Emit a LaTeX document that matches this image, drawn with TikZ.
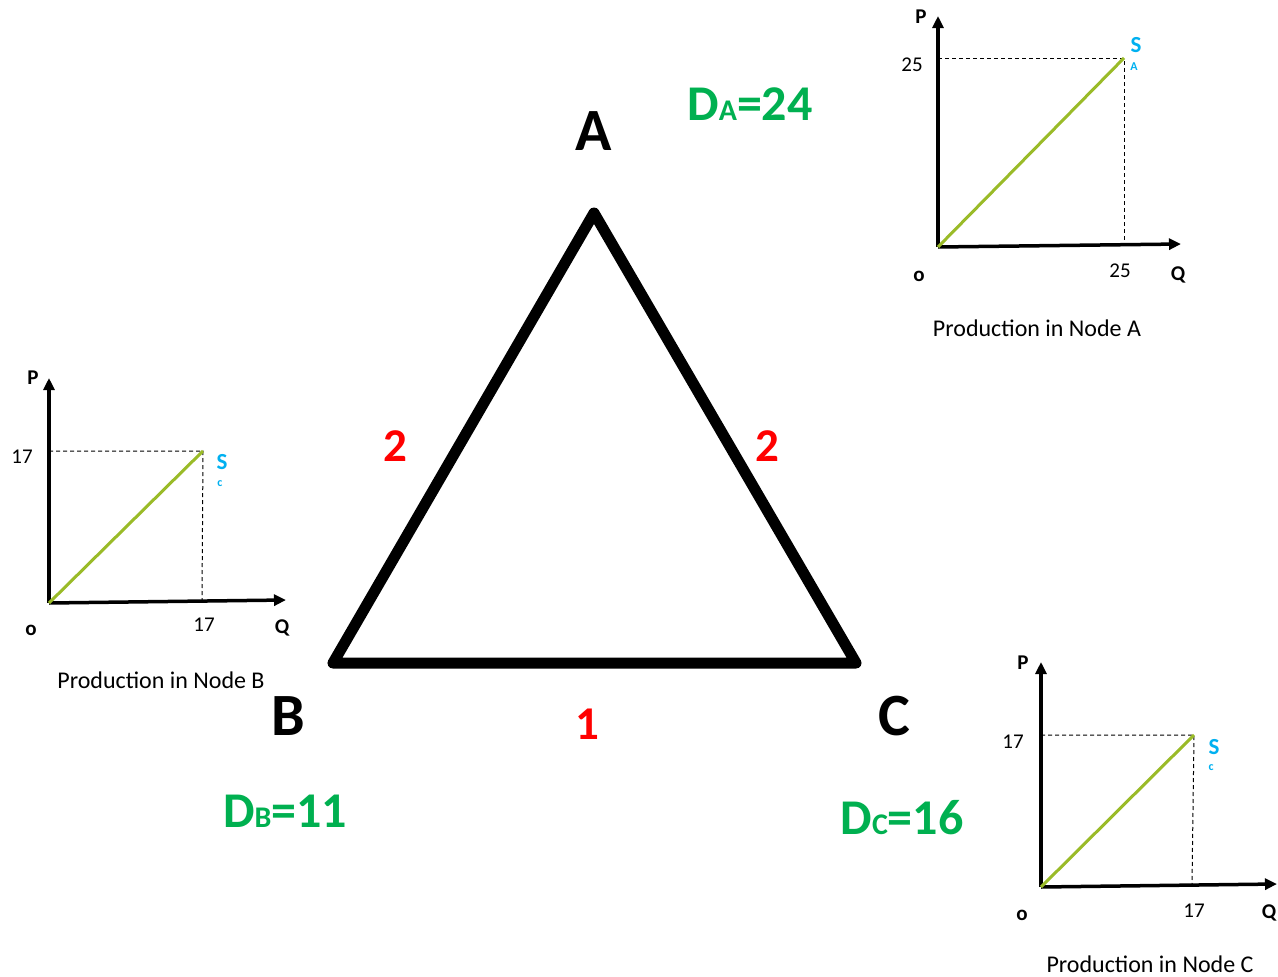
\documentclass[tikz,border=0pt]{standalone}
\usepackage{fontspec}
\setmainfont{Carlito}
\usetikzlibrary{arrows.meta}
\definecolor{dgreen}{RGB}{0,176,80}
\definecolor{dred}{RGB}{255,0,0}
\definecolor{sblue}{RGB}{0,176,240}
\definecolor{sline}{RGB}{154,187,40}
\tikzset{
  tri/.style={line width=11pt,line join=round,line cap=round},
  vlab/.style={font=\fontsize{60}{60}\selectfont\bfseries},
  cost/.style={text=dred,font=\fontsize{47}{47}\selectfont\bfseries},
  dem/.style={text=dgreen,font=\fontsize{50}{50}\selectfont\bfseries},
  axis/.style={line width=3.5pt,-{Triangle[width=11pt,length=12pt]}},
  supply/.style={line width=3pt,sline},
  guide/.style={line width=1pt,dash pattern=on 4pt off 3pt},
  axlab/.style={font=\fontsize{21}{21}\selectfont\bfseries},
  tick/.style={font=\fontsize{21}{21}\selectfont},
  slab/.style={text=sblue,font=\fontsize{23}{23}\selectfont\bfseries},
  ssub/.style={text=sblue,font=\fontsize{12}{12}\selectfont\bfseries},
  captext/.style={font=\fontsize{24}{24}\selectfont},
}
\begin{document}
\begin{tikzpicture}[x=1pt,y=-1pt]
\useasboundingbox (0,0) rectangle (1278,977);
% triangle
\coordinate (A) at (594,213);
\coordinate (B) at (333,663);
\coordinate (C) at (856,663);
\draw[tri] (A) -- (B) -- (C) -- cycle;
\node[vlab] (la) at (594,131) {A};
\node[vlab] (lb) at (288,716) {B};
\node[vlab] (lc) at (894,716) {C};
\node[cost] (cab) at (395,446) {2};
\node[cost] (cac) at (767,446) {2};
\node[cost] (cbc) at (587,724) {1};
\node[dem] (da) at (750,104) {D{\fontsize{30}{30}\selectfont A}=24};
\node[dem] (db) at (285,811) {D{\fontsize{30}{30}\selectfont B}=11};
\node[dem] (dc) at (902,818) {D{\fontsize{30}{30}\selectfont C}=16};
% chart A
\coordinate (oA) at (938,247);
\coordinate (pA) at (938,16);
\coordinate (qA) at (1181,244);
\coordinate (sA) at (1124,58);
\coordinate (hA) at (938,58);
\coordinate (vA) at (1124,244);
\draw[guide] (hA) -- (sA) -- (vA);
\draw[axis] (oA) -- (pA);
\draw[axis] (oA) -- (qA);
\draw[supply] (oA) -- (sA);
\node[axlab] (PA) at (921,17) {P};
\node[tick] (yA) at (912,65) {25};
\node[axlab] (OA) at (919,276) {o};
\node[tick] (xA) at (1120,271) {25};
\node[axlab] (QA) at (1178,275) {Q};
\node[slab] (SA) at (1136,45) {S};
\node[ssub] (SAs) at (1134,67) {A};
\node[captext] (capA) at (1037,328) {Production in Node A};
% chart B
\coordinate (oB) at (49,603);
\coordinate (pB) at (49,378);
\coordinate (qB) at (286,600);
\coordinate (sB) at (203,451);
\coordinate (hB) at (49,451);
\coordinate (vB) at (202,600);
\draw[guide] (hB) -- (sB) -- (vB);
\draw[axis] (oB) -- (pB);
\draw[axis] (oB) -- (qB);
\draw[supply] (oB) -- (sB);
\node[axlab] (PB) at (33,378) {P};
\node[tick] (yB) at (22,457) {17};
\node[axlab] (OB) at (31,630) {o};
\node[tick] (xB) at (204,625) {17};
\node[axlab] (QB) at (282,628) {Q};
\node[slab] (SB) at (222,462) {S};
\node[ssub] (SBs) at (220,484) {c};
\node[captext] (capB) at (161,680) {Production in Node B};
% chart C
\coordinate (oC) at (1041,887);
\coordinate (pC) at (1041,662);
\coordinate (qC) at (1277,884);
\coordinate (sC) at (1194,735);
\coordinate (hC) at (1041,735);
\coordinate (vC) at (1192,884);
\draw[guide] (hC) -- (sC) -- (vC);
\draw[axis] (oC) -- (pC);
\draw[axis] (oC) -- (qC);
\draw[supply] (oC) -- (sC);
\node[axlab] (PC) at (1023,663) {P};
\node[tick] (yC) at (1013,742) {17};
\node[axlab] (OC) at (1022,915) {o};
\node[tick] (xC) at (1194,911) {17};
\node[axlab] (QC) at (1269,913) {Q};
\node[slab] (SC) at (1214,747) {S};
\node[ssub] (SCs) at (1211,768) {c};
\node[captext] (capC) at (1150,964) {Production in Node C};
\end{tikzpicture}
\end{document}
